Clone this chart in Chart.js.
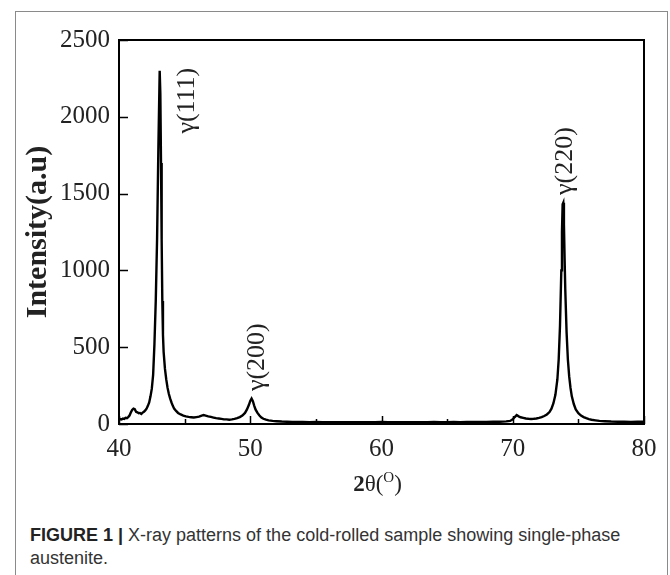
<!DOCTYPE html>
<html>
<head>
<meta charset="utf-8">
<script src="https://cdn.jsdelivr.net/npm/chart.js@4.4.0/dist/chart.umd.min.js"></script>
<style>
  html, body { margin: 0; padding: 0; background: #fff; }
  body { width: 670px; height: 575px; position: relative; overflow: hidden; }
  .frame {
    position: absolute; left: 15px; top: 11px; width: 653px; height: 620px;
    border: 1px solid #8a8a8a; box-sizing: border-box;
  }
  #chartWrap { position: absolute; left: 0; top: 0; width: 670px; height: 500px; }
  .caption {
    position: absolute; left: 30px; top: 524px;
    font-family: "Liberation Sans", Arial, sans-serif; font-size: 18px;
    line-height: 23px; color: #333; white-space: nowrap;
  }
  .caption b { color: #222; }
</style>
</head>
<body>
<div class="frame"></div>
<div id="chartWrap"><canvas id="xrdChart" width="670" height="500"></canvas></div>
<div class="caption"><b>FIGURE 1 |</b> X-ray patterns of the cold-rolled sample showing single-phase<br>austenite.</div>

<script>
// 2θ (deg) and intensity (a.u.)
const twoTheta = [
  40.0, 40.1, 40.2, 40.3, 40.4, 40.5, 40.6, 40.7, 40.8, 40.9,
  41.0, 41.1, 41.2, 41.3, 41.4, 41.5, 41.6, 41.7, 41.8, 41.9,
  42.0, 42.1, 42.2, 42.3, 42.4, 42.5, 42.6, 42.7, 42.8, 42.9,
  43.0, 43.1, 43.15, 43.2, 43.25, 43.3, 43.35, 43.4, 43.5, 43.6,
  43.7, 43.8, 43.9, 44.0, 44.1, 44.2, 44.35, 44.5, 44.7, 44.9,
  45.1, 45.3, 45.5, 45.7, 45.9, 46.1, 46.3, 46.45, 46.6, 46.8,
  47.0, 47.2, 47.4, 47.6, 47.8, 48.0, 48.2, 48.4, 48.6, 48.8,
  49.0, 49.2, 49.4, 49.6, 49.75, 49.9, 50.0, 50.1, 50.2, 50.3,
  50.4, 50.55, 50.7, 50.85, 51.0, 51.2, 51.4, 51.7, 52.0, 52.4,
  52.8, 53.2, 53.6, 54.0, 54.5, 55.0, 55.5, 56.0, 56.5, 57.0,
  57.5, 58.0, 58.5, 59.0, 59.5, 60.0, 60.5, 61.0, 61.5, 62.0,
  62.5, 63.0, 63.5, 64.0, 64.5, 65.0, 65.5, 66.0, 66.5, 67.0,
  67.5, 68.0, 68.5, 69.0, 69.5, 69.8, 70.0, 70.15, 70.3, 70.45,
  70.6, 70.8, 71.0, 71.2, 71.4, 71.6, 71.8, 72.0, 72.2, 72.4,
  72.6, 72.8, 72.95, 73.1, 73.25, 73.4, 73.5, 73.6, 73.7, 73.75,
  73.8, 73.85, 73.9, 73.95, 74.0, 74.1, 74.2, 74.3, 74.4, 74.5,
  74.65, 74.8, 75.0, 75.2, 75.4, 75.6, 75.8, 76.0, 76.3, 76.6,
  77.0, 77.5, 78.0, 78.5, 79.0, 79.5, 80.0
];
const intensity = [
  25, 32, 30, 36, 33, 40, 38, 45, 55, 75,
  92, 100, 96, 80, 76, 70, 72, 66, 74, 80,
  88, 100, 118, 140, 180, 230, 320, 520, 800, 1200,
  1800, 2300, 2150, 1700, 1200, 800, 580, 470, 360, 290,
  235, 195, 165, 140, 118, 100, 85, 72, 62, 55,
  50, 46, 44, 42, 45, 48, 55, 58, 55, 50,
  46, 42, 38, 36, 33, 30, 30, 28, 30, 33,
  38, 45, 55, 72, 95, 125, 150, 165, 148, 120,
  95, 72, 55, 42, 34, 28, 24, 20, 18, 16,
  15, 14, 13, 14, 12, 13, 12, 11, 12, 11,
  12, 11, 12, 11, 12, 14, 11, 12, 11, 12,
  11, 12, 12, 13, 12, 12, 13, 12, 13, 13,
  14, 14, 15, 15, 17, 20, 30, 45, 58, 50,
  44, 40, 36, 34, 33, 34, 36, 40, 45, 52,
  62, 78, 100, 135, 190, 290, 420, 640, 1000, 1250,
  1430, 1440, 1300, 1080, 880, 600, 420, 310, 235, 180,
  130, 95, 70, 55, 45, 38, 32, 28, 24, 20,
  18, 16, 15, 15, 14, 15, 15
];

const xTicks = [40, 50, 60, 70, 80];
const xMinorTicks = [45, 55, 65, 75];
const yTicks = [0, 500, 1000, 1500, 2000, 2500];

const peakLabels = ['γ(111)', 'γ(200)', 'γ(220)'];
const peakLabelAt = [[45.2, 2105], [50.55, 435], [74.0, 1712]];

const serif = '"Liberation Serif", "Times New Roman", serif';
const points = twoTheta.map((t, i) => ({ x: t, y: intensity[i] }));

// frame, inward ticks, peak labels, x title
const decoPlugin = {
  id: 'deco',
  afterDraw(chart) {
    const ctx = chart.ctx;
    const a = chart.chartArea;
    const xs = chart.scales.x, ys = chart.scales.y;
    ctx.save();
    ctx.strokeStyle = '#000';
    ctx.lineWidth = 2;
    ctx.strokeRect(a.left, a.top, a.right - a.left, a.bottom - a.top);

    ctx.lineWidth = 1.5;
    ctx.beginPath();
    yTicks.forEach(v => {
      const py = Math.round(ys.getPixelForValue(v)) + 0.5;
      ctx.moveTo(a.left, py); ctx.lineTo(a.left + 9, py);
    });
    xTicks.forEach(v => {
      const px = Math.round(xs.getPixelForValue(v)) + 0.5;
      ctx.moveTo(px, a.bottom); ctx.lineTo(px, a.bottom - 8);
    });
    xMinorTicks.forEach(v => {
      const px = Math.round(xs.getPixelForValue(v)) + 0.5;
      ctx.moveTo(px, a.bottom); ctx.lineTo(px, a.bottom - 5);
    });
    ctx.stroke();

    // peak labels, rotated
    ctx.fillStyle = '#222';
    ctx.font = '26px ' + serif;
    ctx.textAlign = 'center';
    ctx.textBaseline = 'middle';
    peakLabels.forEach((txt, i) => {
      const px = xs.getPixelForValue(peakLabelAt[i][0]);
      const py = ys.getPixelForValue(peakLabelAt[i][1]);
      ctx.save();
      ctx.translate(px, py);
      ctx.rotate(-Math.PI / 2);
      ctx.fillText(txt, 0, 0);
      ctx.restore();
    });

    // x axis title 2θ(°)
    const parts = [
      { t: '2', f: 'bold 23px ' + serif, dy: 0 },
      { t: 'θ(', f: '23px ' + serif, dy: 0 },
      { t: 'O', f: '15px ' + serif, dy: -9 },
      { t: ')', f: '23px ' + serif, dy: 0 }
    ];
    ctx.textAlign = 'left';
    ctx.textBaseline = 'alphabetic';
    let total = 0;
    parts.forEach(p => { ctx.font = p.f; p.w = ctx.measureText(p.t).width; total += p.w; });
    let x = (a.left + a.right) / 2 - total / 2 - 4;
    const base = 491;
    parts.forEach(p => {
      ctx.font = p.f;
      ctx.fillText(p.t, x, base + p.dy);
      x += p.w;
    });
    ctx.restore();
  }
};

const ctx = document.getElementById('xrdChart').getContext('2d');
new Chart(ctx, {
  type: 'line',
  data: {
    datasets: [{
      data: points,
      borderColor: '#000',
      borderWidth: 2.4,
      pointRadius: 0,
      tension: 0,
      fill: false
    }]
  },
  options: {
    responsive: false,
    animation: false,
    devicePixelRatio: 1,
    layout: { padding: { left: 0, right: 26, top: 40, bottom: 0 } },
    plugins: { legend: { display: false }, tooltip: { enabled: false } },
    scales: {
      x: {
        type: 'linear', min: 40, max: 80,
        ticks: { stepSize: 10, padding: 10, maxRotation: 0, color: '#222', font: { family: serif, size: 25 },
                 callback: v => String(v) },
        grid: { display: false, drawTicks: false },
        border: { display: false },
        afterFit(s) { s.height = 76; }
      },
      y: {
        min: 0, max: 2500,
        ticks: { stepSize: 500, padding: 9, color: '#222', font: { family: serif, size: 25 },
                 callback: v => String(v) },
        grid: { display: false, drawTicks: false },
        border: { display: false },
        title: {
          display: true, text: 'Intensity(a.u)', color: '#222',
          font: { family: serif, size: 30, weight: 'bold' },
          padding: { top: 20, bottom: 0 }
        },
        afterFit(s) { s.width = 119; }
      }
    }
  },
  plugins: [decoPlugin]
});
</script>
</body>
</html>
